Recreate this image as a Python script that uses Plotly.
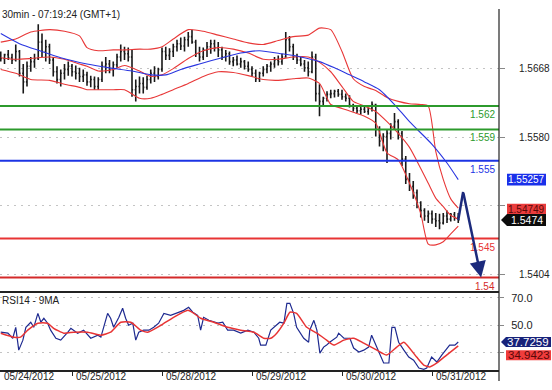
import plotly.graph_objects as go

# ---------------- data ----------------
bar_x = list(range(123))
bar_open = [1.5683,1.5681,1.5686,1.5682,1.5679,1.5690,1.5662,1.5651,1.5671,1.5677,
            1.5681,1.5702,1.5690,1.5696,1.5679,1.5664,1.5654,1.5662,1.5667,1.5671,
            1.5664,1.5662,1.5658,1.5660,1.5651,1.5654,1.5645,1.5654,1.5671,1.5674,
            1.5667,1.5673,1.5683,1.5690,1.5687,1.5683,1.5641,1.5645,1.5649,1.5644,
            1.5654,1.5662,1.5658,1.5667,1.5690,1.5685,1.5690,1.5696,1.5700,1.5697,
            1.5705,1.5709,1.5702,1.5687,1.5683,1.5692,1.5696,1.5700,1.5695,1.5692,
            1.5683,1.5687,1.5677,1.5679,1.5674,1.5677,1.5671,1.5667,1.5662,1.5655,
            1.5662,1.5667,1.5671,1.5674,1.5679,1.5677,1.5683,1.5705,1.5696,1.5683,
            1.5679,1.5674,1.5669,1.5664,1.5683,1.5636,1.5626,1.5630,1.5635,1.5636,
            1.5639,1.5635,1.5632,1.5630,1.5621,1.5617,1.5614,1.5616,1.5613,1.5617,
            1.5622,1.5590,1.5575,1.5581,1.5585,1.5594,1.5600,1.5585,1.5552,1.5526,
            1.5517,1.5509,1.5496,1.5486,1.5479,1.5482,1.5475,1.5473,1.5470,1.5479,
            1.5475,1.5481,1.5477]
bar_high = [1.5690,1.5687,1.5692,1.5687,1.5699,1.5692,1.5674,1.5677,1.5683,1.5687,
            1.5725,1.5713,1.5705,1.5700,1.5683,1.5671,1.5667,1.5674,1.5677,1.5674,
            1.5672,1.5669,1.5667,1.5664,1.5659,1.5658,1.5657,1.5677,1.5683,1.5679,
            1.5677,1.5687,1.5699,1.5696,1.5695,1.5692,1.5654,1.5658,1.5657,1.5659,
            1.5667,1.5671,1.5669,1.5695,1.5696,1.5694,1.5700,1.5705,1.5708,1.5709,
            1.5715,1.5718,1.5705,1.5696,1.5695,1.5702,1.5705,1.5705,1.5702,1.5696,
            1.5692,1.5690,1.5683,1.5685,1.5682,1.5679,1.5677,1.5671,1.5667,1.5664,
            1.5671,1.5674,1.5677,1.5683,1.5685,1.5687,1.5715,1.5710,1.5700,1.5687,
            1.5683,1.5679,1.5677,1.5690,1.5687,1.5648,1.5632,1.5639,1.5641,1.5641,
            1.5642,1.5641,1.5636,1.5634,1.5623,1.5621,1.5620,1.5621,1.5618,1.5626,
            1.5623,1.5594,1.5585,1.5590,1.5598,1.5611,1.5603,1.5588,1.5556,1.5534,
            1.5524,1.5513,1.5498,1.5489,1.5486,1.5486,1.5483,1.5482,1.5483,1.5486,
            1.5483,1.5484,1.5483]
bar_low = [1.5677,1.5674,1.5679,1.5674,1.5677,1.5658,1.5636,1.5645,1.5664,1.5669,
           1.5679,1.5683,1.5677,1.5674,1.5658,1.5649,1.5645,1.5654,1.5659,1.5658,
           1.5654,1.5651,1.5651,1.5646,1.5644,1.5641,1.5641,1.5651,1.5662,1.5662,
           1.5658,1.5669,1.5677,1.5679,1.5677,1.5632,1.5626,1.5636,1.5636,1.5641,
           1.5649,1.5651,1.5654,1.5664,1.5679,1.5679,1.5683,1.5690,1.5692,1.5690,
           1.5696,1.5700,1.5683,1.5677,1.5679,1.5683,1.5687,1.5690,1.5683,1.5679,
           1.5677,1.5673,1.5671,1.5672,1.5669,1.5667,1.5664,1.5658,1.5651,1.5651,
           1.5658,1.5662,1.5664,1.5669,1.5672,1.5673,1.5682,1.5690,1.5679,1.5674,
           1.5671,1.5664,1.5658,1.5662,1.5626,1.5607,1.5620,1.5626,1.5630,1.5631,
           1.5632,1.5628,1.5626,1.5618,1.5613,1.5611,1.5609,1.5611,1.5609,1.5613,
           1.5581,1.5568,1.5562,1.5547,1.5577,1.5590,1.5577,1.5543,1.5520,1.5511,
           1.5501,1.5489,1.5477,1.5473,1.5470,1.5469,1.5465,1.5462,1.5468,1.5470,
           1.5472,1.5473,1.5470]
bar_close = [1.5681,1.5686,1.5682,1.5679,1.5690,1.5662,1.5651,1.5671,1.5677,1.5681,
             1.5702,1.5690,1.5696,1.5679,1.5664,1.5654,1.5662,1.5667,1.5671,1.5664,
             1.5662,1.5658,1.5660,1.5651,1.5654,1.5645,1.5654,1.5671,1.5674,1.5667,
             1.5673,1.5683,1.5690,1.5687,1.5683,1.5641,1.5645,1.5649,1.5644,1.5654,
             1.5662,1.5658,1.5667,1.5690,1.5685,1.5690,1.5696,1.5700,1.5697,1.5705,
             1.5709,1.5702,1.5687,1.5683,1.5692,1.5696,1.5700,1.5695,1.5692,1.5683,
             1.5687,1.5677,1.5679,1.5674,1.5677,1.5671,1.5667,1.5662,1.5655,1.5662,
             1.5667,1.5671,1.5674,1.5679,1.5677,1.5683,1.5705,1.5696,1.5683,1.5679,
             1.5674,1.5669,1.5664,1.5683,1.5636,1.5626,1.5630,1.5635,1.5636,1.5639,
             1.5635,1.5632,1.5630,1.5621,1.5617,1.5614,1.5616,1.5613,1.5617,1.5622,
             1.5590,1.5575,1.5581,1.5585,1.5594,1.5600,1.5585,1.5552,1.5526,1.5517,
             1.5509,1.5496,1.5486,1.5479,1.5482,1.5475,1.5473,1.5470,1.5479,1.5475,
             1.5481,1.5477,1.5474]

band_x = [0,4,8,13,17,21,23,26,30,33,37,40,43,46,50,54,58,62,66,70,74,78,82,85,88,91,94,97,
          100,103,106,109,112,114,116,118,120,122]
band_upper = [1.5702,1.5706,1.5715,1.5718,1.5716,1.5710,1.5695,1.5691,1.5692,1.5692,1.5693,1.5693,
              1.5696,1.5706,1.5718,1.5716,1.5711,1.5706,1.5701,1.5699,1.5704,1.5709,1.5711,1.5720,
              1.5718,1.5690,1.5655,1.5645,1.5640,1.5631,1.5626,1.5623,1.5622,1.5620,1.5562,1.5526,
              1.5501,1.5489]
band_mid = [1.5682,1.5680,1.5681,1.5683,1.5680,1.5674,1.5671,1.5665,1.5667,1.5672,1.5665,1.5658,
            1.5660,1.5668,1.5681,1.5691,1.5695,1.5693,1.5688,1.5680,1.5680,1.5683,1.5683,1.5676,
            1.5664,1.5645,1.5626,1.5620,1.5613,1.5600,1.5585,1.5567,1.5540,1.5521,1.5502,1.5491,
            1.5480,1.54749]
band_lower = [1.5667,1.5662,1.5654,1.5653,1.5648,1.5644,1.5641,1.5641,1.5641,1.5641,1.5630,1.5630,
              1.5635,1.5641,1.5649,1.5658,1.5664,1.5663,1.5659,1.5654,1.5653,1.5655,1.5656,1.5649,
              1.5622,1.5617,1.5612,1.5607,1.5598,1.5560,1.5551,1.5521,1.5482,1.5443,1.5442,1.5446,
              1.5456,1.5466]

ma_x = [0,5,11,16,23,29,35,40,44,48,53,59,64,69,75,80,85,89,93,97,101,105,109,115,119,122]
ma_val = [1.5713,1.5700,1.5690,1.5682,1.5674,1.5669,1.5665,1.5660,1.5660,1.5667,1.5674,1.5682,
          1.5688,1.5691,1.5687,1.5683,1.5677,1.5669,1.5660,1.5651,1.5641,1.5622,1.5600,1.5571,
          1.5547,1.55257]

levels = [1.562, 1.559, 1.555, 1.545, 1.540]
level_text = ["1.562", "1.559", "1.555", "1.545", "1.54"]
level_colors = ["#2c9a2c", "#2c9a2c", "#1c34e4", "#e83434", "#d42a2a"]

forecast_x = [122, 123.3, 128.1]
forecast_y = [1.5474, 1.5510, 1.5400]

rsi_x = [0,1.9,3.2,4,4.8,5.9,6.7,8,8.8,9.9,10.7,11.5,12.5,13.3,14.7,16,17.9,18.7,20.5,22.1,
         24,25.9,26.7,27.5,28.5,29.3,30.1,31.5,32.5,33.3,34.1,35.2,36,36.8,38.1,39.5,40.8,42.1,
         43.5,45.3,47.2,48.8,50.1,51.2,52.5,53.3,54.1,55.5,57.9,59.2,60.5,62.1,64,65.9,67.5,
         68.8,69.3,70.7,72,72.8,73.6,74.4,75.5,76.3,77.1,78.1,78.9,80.8,82.1,82.4,83.5,84.3,
         85.1,86.1,86.9,87.7,89.6,90.1,91.5,93.1,94.1,95.5,96.8,98.1,98.9,99.7,100.8,102.1,
         103.5,104.3,105.1,106.1,107.5,108.8,110.1,111.5,112.8,113.6,114.9,116.3,117.6,118.9,
         119.7,121.1,122]
rsi_val = [44.9,44.2,40.5,48.5,31.8,39.1,48.5,52.2,48.5,58.7,52.2,55.1,51.5,46.4,40.5,39.1,
           44.9,47.8,44.2,46.4,40.5,42.7,41.3,50.0,58.7,55.1,48.5,55.8,62.4,55.1,50.0,51.5,39.1,
           44.9,46.4,46.4,48.5,51.5,58.7,57.3,59.5,60.9,63.1,59.5,57.3,46.4,55.8,53.6,51.5,52.2,
           46.4,46.4,44.2,46.4,44.9,40.5,35.5,35.5,46.4,48.5,50.0,52.2,51.5,66.0,66.0,58.7,48.5,
           40.5,37.6,46.4,53.6,46.4,29.6,34.0,35.5,37.6,41.3,44.2,40.5,40.5,33.3,30.4,31.8,34.0,
           42.7,37.6,30.4,22.4,22.4,48.5,48.5,37.6,31.8,26.7,24.5,18.7,17.8,18.7,26.7,23.1,28.2,
           33.3,35.5,35.5,37.7259]
rsima_x = [0,3.5,5.3,7.2,9.9,12.5,14.1,16.8,19.5,23.2,26.7,29.3,32,34.7,37.3,39.2,42.7,46.1,
           49.9,51.5,53.3,56.8,60.5,64,67.5,70.1,72,73.6,75.5,77.1,78.9,81.6,84.3,86.9,88.8,
           91.5,94.1,96.8,100.3,102.9,105.6,107.5,110.9,112.8,114.4,116.3,118.9,122]
rsima_val = [44.2,41.3,41.3,46.4,51.5,51.5,47.8,44.2,44.9,44.9,42.7,44.9,52.2,52.2,46.4,44.9,
             50.0,55.8,60.9,58.7,55.1,52.2,48.5,46.4,44.9,40.5,40.5,44.2,51.5,59.5,58.7,48.5,
             44.2,39.1,35.5,39.1,40.5,36.9,31.8,28.2,34.0,37.6,26.7,20.9,19.5,22.4,28.2,34.9423]

day_ticks = [19, 43, 67, 91, 115]
day_labels = ["05/25/2012", "05/28/2012", "05/29/2012", "05/30/2012", "05/31/2012"]
first_day_label = "05/24/2012"

price_ticks = [1.5668, 1.5580, 1.5492, 1.5404]
rsi_ticks = [70, 50, 30]

# ---------------- layout geometry ----------------
W, H = 552, 390
ML, MR, MT, MB = 0, 53, 0, 20
PW, PH = W - ML - MR, H - MT - MB
price_dom = [1 - 292 / PH, 1 - 7 / PH]
rsi_dom = [0, 1 - 293 / PH]
price_rng = [1.538101, 1.574453]
rsi_rng = [17.273, 73.273]
x_rng = [-0.2, -0.2 + PW / 3.75]

ppx = (price_dom[1] - price_dom[0]) * PH / (price_rng[1] - price_rng[0])  # px per price
rpx = (rsi_dom[1] - rsi_dom[0]) * PH / (rsi_rng[1] - rsi_rng[0])          # px per rsi unit


def xp(px):
    return px / PW


def yp(py):
    return (PH - py) / PH


FONT = "Arial, Liberation Sans, sans-serif"

fig = go.Figure()

fig.add_trace(go.Ohlc(
    x=bar_x, open=bar_open, high=bar_high, low=bar_low, close=bar_close,
    increasing=dict(line=dict(color="#181818", width=1.6)),
    decreasing=dict(line=dict(color="#181818", width=1.6)),
    tickwidth=0.3, xaxis="x", yaxis="y", showlegend=False, hoverinfo="skip"))

for vals in (band_upper, band_mid, band_lower):
    fig.add_trace(go.Scatter(x=band_x, y=vals, mode="lines",
                             line=dict(color="#e83838", width=1.1, shape="spline", smoothing=0.6),
                             xaxis="x", yaxis="y", showlegend=False, hoverinfo="skip"))
fig.add_trace(go.Scatter(x=ma_x, y=ma_val, mode="lines",
                         line=dict(color="#2a36e0", width=1.1, shape="spline", smoothing=0.6),
                         xaxis="x", yaxis="y", showlegend=False, hoverinfo="skip"))

# forecast arrow first leg
fig.add_trace(go.Scatter(x=forecast_x[:2], y=forecast_y[:2], mode="lines",
                         line=dict(color="#1c2a7c", width=2.5), xaxis="x", yaxis="y",
                         showlegend=False, hoverinfo="skip"))

fig.add_trace(go.Scatter(x=rsi_x, y=rsi_val, mode="lines", line=dict(color="#1e2a90", width=1.2),
                         xaxis="x2", yaxis="y2", showlegend=False, hoverinfo="skip"))
fig.add_trace(go.Scatter(x=rsima_x, y=rsima_val, mode="lines",
                         line=dict(color="#e83434", width=1.5, shape="spline", smoothing=0.5),
                         xaxis="x2", yaxis="y2", showlegend=False, hoverinfo="skip"))

shapes = []
annotations = []

# level lines + labels
for lv, txt, col in zip(levels, level_text, level_colors):
    shapes.append(dict(type="line", xref="paper", yref="y", x0=0, x1=1, y0=lv, y1=lv,
                       line=dict(color=col, width=2), layer="above"))
    annotations.append(dict(x=xp(497), y=lv, xref="paper", yref="y", text=txt, showarrow=False,
                            xanchor="right", yanchor="top", yshift=-1,
                            font=dict(family=FONT, size=10, color=col)))

# forecast arrow second leg
annotations.append(dict(x=forecast_x[2], y=forecast_y[2], ax=forecast_x[1], ay=forecast_y[1],
                        xref="x", yref="y", axref="x", ayref="y", text="", showarrow=True,
                        arrowhead=2, arrowsize=1.3, arrowwidth=2.5, arrowcolor="#1c2a7c",
                        standoff=0, startstandoff=0))

# right axis vertical line
shapes.append(dict(type="line", xref="paper", yref="paper", x0=1, x1=1, y0=yp(7), y1=yp(381),
                   line=dict(color="#222", width=1.2)))

# price value boxes
h = 6 / ppx
ma_last = ma_val[-1]
shapes.append(dict(type="rect", xref="paper", yref="y", x0=xp(507), x1=xp(546),
                   y0=ma_last - h, y1=ma_last + h, fillcolor="#1a30ea", line=dict(width=0)))
annotations.append(dict(x=xp(526.5), y=ma_last, xref="paper", yref="y", text=f"{ma_last:.5f}",
                        showarrow=False, xanchor="center", yanchor="middle",
                        font=dict(family=FONT, size=10, color="white")))

mid_last = band_mid[-1]
mid_c = mid_last + 9.5 / ppx
shapes.append(dict(type="rect", xref="paper", yref="y", x0=xp(507), x1=xp(546),
                   y0=mid_c - h, y1=mid_c + h, fillcolor="#ea3c3c", line=dict(width=0)))
annotations.append(dict(x=xp(526.5), y=mid_c, xref="paper", yref="y", text=f"{mid_last:.5f}",
                        showarrow=False, xanchor="center", yanchor="middle",
                        font=dict(family=FONT, size=10, color="#5a0808")))

c_last = bar_close[-1]
shapes.append(dict(type="path", xref="paper", yref="y",
                   path=(f"M {xp(501)},{c_last} L {xp(507)},{c_last + h} L {xp(546)},{c_last + h} "
                         f"L {xp(546)},{c_last - h} L {xp(507)},{c_last - h} Z"),
                   fillcolor="#0c0c0c", line=dict(width=0)))
annotations.append(dict(x=xp(527), y=c_last, xref="paper", yref="y", text=f"{c_last:.4f}",
                        showarrow=False, xanchor="center", yanchor="middle",
                        font=dict(family=FONT, size=10.5, color="white")))

# RSI value boxes
hr = 5 / rpx
r_last = rsi_val[-1]
shapes.append(dict(type="path", xref="paper", yref="y2",
                   path=(f"M {xp(501)},{r_last} L {xp(506)},{r_last + hr} L {xp(551)},{r_last + hr} "
                         f"L {xp(551)},{r_last - hr} L {xp(506)},{r_last - hr} Z"),
                   fillcolor="#17227a", line=dict(width=0)))
annotations.append(dict(x=xp(528), y=r_last, xref="paper", yref="y2", text=f"{r_last:.4f}",
                        showarrow=False, xanchor="center", yanchor="middle",
                        font=dict(family=FONT, size=11.5, color="white")))
rm_last = rsima_val[-1]
rm_c = rm_last - 9.5 / rpx
shapes.append(dict(type="rect", xref="paper", yref="y2", x0=xp(506), x1=xp(551),
                   y0=rm_c - hr, y1=rm_c + hr, fillcolor="#f03c3c", line=dict(width=0)))
annotations.append(dict(x=xp(528.5), y=rm_c, xref="paper", yref="y2", text=f"{rm_last:.4f}",
                        showarrow=False, xanchor="center", yanchor="middle",
                        font=dict(family=FONT, size=11.5, color="#5a0808")))

# titles
annotations.append(dict(x=0, y=yp(13), xref="paper", yref="paper", text="30min - 07:19:24 (GMT+1)",
                        showarrow=False, xanchor="left", yanchor="middle",
                        font=dict(family=FONT, size=10, color="#222")))
annotations.append(dict(x=0, y=yp(300), xref="paper", yref="paper", text="RSI14 - 9MA",
                        showarrow=False, xanchor="left", yanchor="middle",
                        font=dict(family=FONT, size=10, color="#222")))

# date labels
for tv, tl in zip(day_ticks, day_labels):
    annotations.append(dict(x=tv, y=yp(377), xref="x2", yref="paper", text=tl, showarrow=False,
                            xanchor="left", yanchor="middle", xshift=2,
                            font=dict(family=FONT, size=10, color="#222")))
annotations.append(dict(x=xp(2), y=yp(377), xref="paper", yref="paper", text=first_day_label,
                        showarrow=False, xanchor="left", yanchor="middle",
                        font=dict(family=FONT, size=10, color="#222")))

grid = dict(showgrid=True, gridcolor="#c4c4c4", griddash="2px,5px", gridwidth=1, zeroline=False)

fig.update_layout(
    width=W, height=H, margin=dict(l=ML, r=MR, t=MT, b=MB, pad=0),
    paper_bgcolor="white", plot_bgcolor="white",
    font=dict(family=FONT, size=10, color="#222"),
    showlegend=False,
    xaxis=dict(domain=[0, 1], range=x_rng, anchor="y", visible=False,
               rangeslider=dict(visible=False), fixedrange=True),
    yaxis=dict(domain=price_dom, range=price_rng, side="right", anchor="x",
               tickvals=price_ticks, ticktext=["1.5668", "1.5580", "", "1.5404"],
               ticks="outside", ticklen=5, tickcolor="#888", ticklabelstandoff=12,
               tickfont=dict(size=10, color="#222"), showline=False, **grid),
    xaxis2=dict(domain=[0, 1], range=x_rng, anchor="y2", showline=True, linecolor="#222",
                linewidth=1.5, mirror=True, tickvals=day_ticks, ticktext=[""] * len(day_ticks),
                ticks="outside", ticklen=4, tickcolor="#222", showgrid=False, zeroline=False),
    yaxis2=dict(domain=rsi_dom, range=rsi_rng, side="right", anchor="x2",
                tickvals=rsi_ticks, ticktext=["70.0", "50.0", ""], ticks="outside", ticklen=4,
                tickcolor="#888", ticklabelstandoff=5, tickfont=dict(size=11, color="#222"),
                showline=False, **grid),
    shapes=shapes, annotations=annotations,
)

fig.write_html("out.html")
